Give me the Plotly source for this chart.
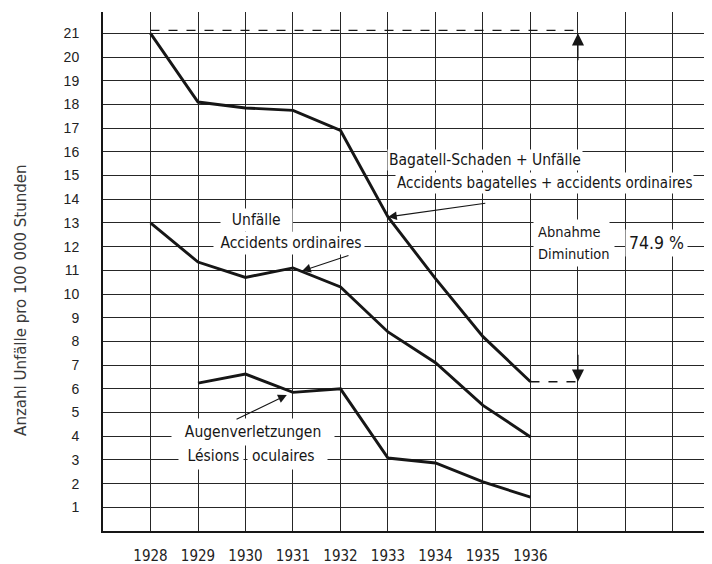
import plotly.graph_objects as go

# ---- data ----
years = [1928, 1929, 1930, 1931, 1932, 1933, 1934, 1935, 1936]
total_accidents = [21.0, 18.1, 17.85, 17.75, 16.9, 13.25, 10.65, 8.2, 6.3]
ordinary_accidents = [13.0, 11.35, 10.7, 11.1, 10.3, 8.4, 7.1, 5.3, 3.97]
eye_injuries = [None, 6.24, 6.62, 5.85, 6.0, 3.08, 2.87, 2.07, 1.43]
grid_years = list(range(1928, 1940))
x_tick_labels = [str(y) if y <= 1936 else "" for y in grid_years]
y_ticks = list(range(1, 22))
y_title = "Anzahl Unfälle pro 100 000 Stunden"
decrease_label = "74.9 %"

INK = "#161616"
GRID = "#262626"
LETTER = "DejaVu Sans Condensed, DejaVu Sans, sans-serif"
PLAIN = "Liberation Sans, Arial, sans-serif"

fig = go.Figure()
for series in (total_accidents, ordinary_accidents, eye_injuries):
    fig.add_trace(go.Scatter(x=years, y=series, mode="lines",
                             line=dict(color=INK, width=2.9),
                             connectgaps=False, showlegend=False,
                             hoverinfo="skip"))

# reference lines for the decrease
marker_year = 1937
fig.add_shape(type="line", xref="x", yref="y", x0=years[0], x1=marker_year,
              yanchor=total_accidents[0], ysizemode="pixel", y0=3, y1=3,
              line=dict(color=INK, width=1.4, dash="dash"))
fig.add_shape(type="line", xref="x", yref="y", x0=years[-1], x1=marker_year,
              y0=total_accidents[-1], y1=total_accidents[-1],
              line=dict(color=INK, width=1.4, dash="dash"))

ann = []
def label(text, x, y, xanchor="center", size=15.5, pad=3, family=LETTER):
    ann.append(dict(text=text, x=x, y=y, xref="x", yref="y",
                    xanchor=xanchor, yanchor="middle", showarrow=False,
                    font=dict(family=family, size=size, color=INK),
                    bgcolor="white", borderpad=pad))

def arrow(x, y, ax, ay, size=1.6):
    ann.append(dict(text="", x=x, y=y, ax=ax, ay=ay, xref="x", yref="y",
                    axref="x", ayref="y", showarrow=True, arrowhead=2,
                    arrowsize=size, arrowwidth=1.1, arrowcolor=INK))

NB = "\u00a0"
label("Bagatell-Schaden + Unfälle", 1932.98, 15.65, xanchor="left", pad=1)
label("Accidents bagatelles + accidents ordinaires", 1933.15, 14.68,
      xanchor="left", size=15, pad=1)
label(NB * 2 + "Unfälle" + NB * 2, 1930.24, 13.12, pad=2)
label(NB + "Accidents ordinaires", 1930.92, 12.15, pad=2)
label(NB * 2 + "Augenverletzungen" + NB * 2, 1930.16, 4.18, pad=4)
label(NB + "Lésions", 1929.97, 3.16, xanchor="right", pad=4)
label("oculaires" + NB * 2, 1930.04, 3.16, xanchor="left", pad=4)
label("Abnahme" + NB, 1936.05, 12.62, xanchor="left", size=14.5, pad=4)
label("Diminution", 1936.05, 11.69, xanchor="left", size=14.5, pad=4)
label(decrease_label, 1938.66, 12.15, size=17.5, pad=3)

arrow(years[5], total_accidents[5], 1935.08, 13.84)
arrow(1931.19, 10.97, 1932.2, 11.65)
arrow(1930.87, 5.74, 1929.78, 4.68)
arrow(marker_year, total_accidents[0], marker_year, total_accidents[0] - 1.2, size=2.2)
arrow(marker_year, total_accidents[-1], marker_year, total_accidents[-1] + 1.2, size=2.2)

ann.append(dict(text=y_title, xref="paper", yref="paper", x=-0.151, y=0.445,
                textangle=-90, showarrow=False,
                font=dict(family="DejaVu Sans, sans-serif", size=15, color="#3a3a3a")))

fig.update_layout(
    width=712, height=564,
    margin=dict(l=95, r=0, t=4, b=41),
    paper_bgcolor="white", plot_bgcolor="white",
    annotations=ann,
    xaxis=dict(range=[1927, 1939.99], tickvals=grid_years, ticktext=x_tick_labels,
               showgrid=True, gridcolor=GRID, gridwidth=1.3, zeroline=False,
               showline=True, linecolor=INK, linewidth=2, ticks="",
               tickfont=dict(family=LETTER, size=15, color="#222222"),
               ticklabelstandoff=10, fixedrange=True),
    yaxis=dict(range=[0, 21.9], tickvals=y_ticks,
               showgrid=True, gridcolor=GRID, gridwidth=1.3, zeroline=False,
               showline=True, linecolor=INK, linewidth=2, ticks="",
               tickfont=dict(family=PLAIN, size=14, color="#222222"),
               ticklabelstandoff=19, fixedrange=True),
)

fig.write_html("out.html")
